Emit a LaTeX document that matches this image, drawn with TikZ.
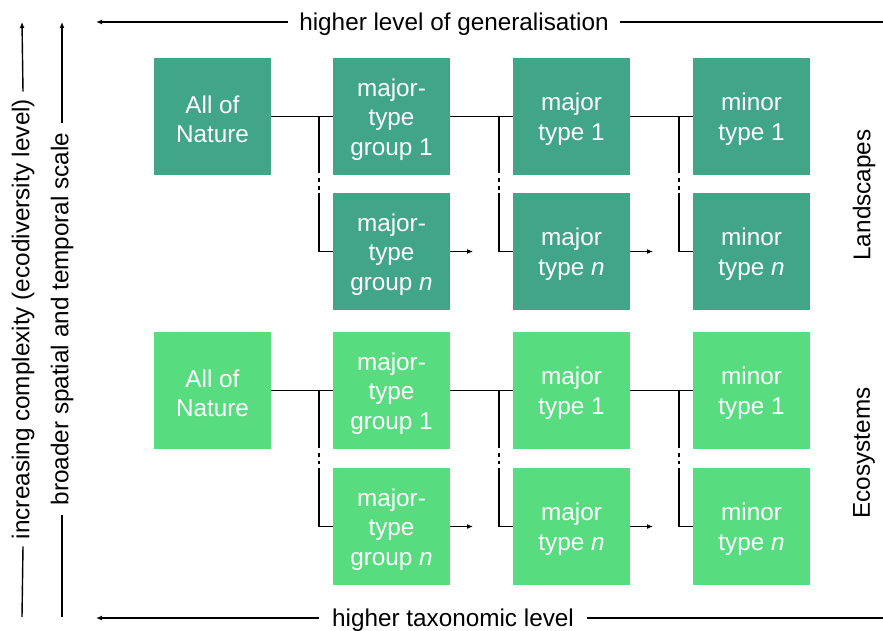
\documentclass[tikz,border=0pt]{standalone}
\usepackage{fontspec}
\setmainfont{Liberation Sans}
\usetikzlibrary{arrows.meta}
\definecolor{landc}{HTML}{41A687}
\definecolor{ecoc}{HTML}{57DD80}
\newcommand\bxstrut{\rule{0pt}{23.5pt}}
\begin{document}
\begin{tikzpicture}[x=1pt,y=-1pt,
  lbl/.style={font=\fontsize{24.3}{29.5}\selectfont, text=black},
  hlbl/.style={lbl, text depth=0pt},
  box/.style={minimum width=117pt, minimum height=117pt, inner sep=0pt, align=center, text=white,
    font=\fontsize{24.3}{29.5}\selectfont},
  land/.style={box, fill=landc},
  eco/.style={box, fill=ecoc},
  conn/.style={line width=1.8pt, black},
  dotgap/.style={conn, dash pattern=on 57pt off 5pt on 4pt off 4pt on 3.5pt off 3.5pt on 300pt},
  arr/.style={conn, -{Latex[length=6pt,width=5pt]}},
  axisline/.style={line width=1.4pt, black},
  axisarr/.style={axisline, -{Latex[length=6pt,width=5pt]}},
]
\useasboundingbox (0,0) rectangle (883,631);

% Landscapes rows
\node[land] (L11) at (212.5,116.5) {\bxstrut All of\\Nature};
\node[land] (L12) at (391.5,116.5) {\bxstrut major-\\type\\group 1};
\node[land] (L13) at (571.5,116.5) {\bxstrut major\\type 1};
\node[land] (L14) at (751.5,116.5) {\bxstrut minor\\type 1};
\node[land] (L22) at (391.5,251.5) {\bxstrut major-\\type\\group \textit{n}};
\node[land] (L23) at (571.5,251.5) {\bxstrut major\\type \textit{n}};
\node[land] (L24) at (751.5,251.5) {\bxstrut minor\\type \textit{n}};

\coordinate (LJ1) at (319,116.5);
\coordinate (LJ2) at (499,116.5);
\coordinate (LJ3) at (679,116.5);
\coordinate (LE1) at (473,251.5);
\coordinate (LE2) at (653,251.5);
\draw[conn] (L11.east) -- (L12.west);
\draw[conn] (L12.east) -- (L13.west);
\draw[conn] (L13.east) -- (L14.west);
\draw[dotgap] (LJ1) |- (L22.west);
\draw[dotgap] (LJ2) |- (L23.west);
\draw[dotgap] (LJ3) |- (L24.west);
\draw[arr] (L22.east) -- (LE1);
\draw[arr] (L23.east) -- (LE2);

% Ecosystems rows
\node[eco] (E11) at (212.5,390.5) {\bxstrut All of\\Nature};
\node[eco] (E12) at (391.5,390.5) {\bxstrut major-\\type\\group 1};
\node[eco] (E13) at (571.5,390.5) {\bxstrut major\\type 1};
\node[eco] (E14) at (751.5,390.5) {\bxstrut minor\\type 1};
\node[eco] (E22) at (391.5,526.5) {\bxstrut major-\\type\\group \textit{n}};
\node[eco] (E23) at (571.5,526.5) {\bxstrut major\\type \textit{n}};
\node[eco] (E24) at (751.5,526.5) {\bxstrut minor\\type \textit{n}};

\coordinate (EJ1) at (319,390.5);
\coordinate (EJ2) at (499,390.5);
\coordinate (EJ3) at (679,390.5);
\coordinate (EE1) at (473,526.5);
\coordinate (EE2) at (653,526.5);
\draw[conn] (E11.east) -- (E12.west);
\draw[conn] (E12.east) -- (E13.west);
\draw[conn] (E13.east) -- (E14.west);
\draw[dotgap] (EJ1) |- (E22.west);
\draw[dotgap] (EJ2) |- (E23.west);
\draw[dotgap] (EJ3) |- (E24.west);
\draw[arr] (E22.east) -- (EE1);
\draw[arr] (E23.east) -- (EE2);

% top axis
\node[hlbl, inner xsep=11pt] (top) at (454,22) {higher level of generalisation};
\coordinate (topL) at (96,22);
\coordinate (topR) at (883,22);
\draw[axisline] (topR) -- (top.east);
\draw[axisarr] (top.west) -- (topL);

% bottom axis
\node[hlbl, inner xsep=13pt] (bot) at (453,618) {higher taxonomic level};
\coordinate (botL) at (96,618);
\coordinate (botR) at (883,618);
\draw[axisline] (botR) -- (bot.east);
\draw[axisarr] (bot.west) -- (botL);

% left axes
\node[lbl, rotate=90, inner xsep=7pt] (cx) at (23,319) {increasing complexity (ecodiversity level)};
\coordinate (cxT) at (22,22);
\coordinate (cxB) at (22,617);
\draw[axisarr] (cx.east) -- (cxT);
\draw[axisline] (cxB) -- (cx.west);

\node[lbl, rotate=90, inner xsep=9pt] (sc) at (62,319) {broader spatial and temporal scale};
\coordinate (scT) at (62,22);
\coordinate (scB) at (62,617);
\draw[axisarr] (sc.east) -- (scT);
\draw[axisline] (scB) -- (sc.west);

% right labels
\node[lbl, rotate=90] (ls) at (864,195) {Landscapes};
\node[lbl, rotate=90] (es) at (864,453) {Ecosystems};
\end{tikzpicture}
\end{document}
